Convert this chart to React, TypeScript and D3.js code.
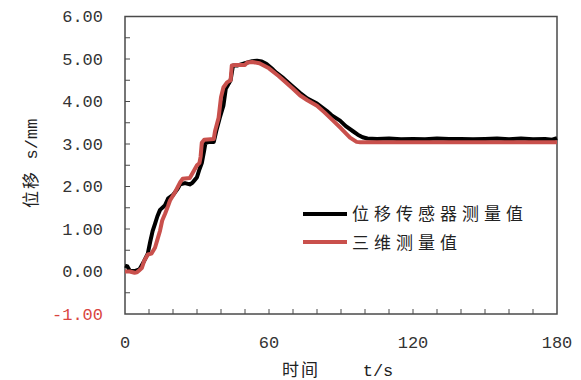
import React from "react";
import * as d3 from "d3";

const yTicks = [-1, 0, 1, 2, 3, 4, 5, 6];
const xTicks = [0, 60, 120, 180];
const legendLabels = ["位移传感器测量值", "三维测量值"];
const yAxisTitle = ["位移", "s/mm"];
const xAxisTitle = ["时间", "t/s"];

const sensorT = [0, 1, 2, 4, 6, 8, 9.5, 10.5, 11.5, 12.5, 13.5, 14.6, 16.7, 18, 20, 22, 23, 25, 27, 28, 29, 30, 31, 32, 33, 33.5, 35, 37, 38, 39.5, 41, 42, 43, 44, 45, 47, 50, 53, 55, 57, 59, 61.7, 63, 66, 70, 73, 76, 80, 84, 86, 89.6, 92, 95, 97, 99, 101, 105, 110, 115, 120, 125, 130, 135, 140, 145, 150, 155, 160, 165, 170, 175, 178, 180];
const sensorV = [0.14, 0.12, 0.02, 0.01, 0.05, 0.25, 0.42, 0.7, 0.95, 1.12, 1.3, 1.45, 1.56, 1.72, 1.8, 1.95, 2.05, 2.08, 2.05, 2.08, 2.15, 2.22, 2.4, 2.55, 2.85, 3.02, 3.05, 3.05, 3.3, 3.62, 3.9, 4.3, 4.4, 4.5, 4.85, 4.85, 4.9, 4.95, 4.96, 4.94, 4.88, 4.75, 4.68, 4.55, 4.35, 4.2, 4.07, 3.95, 3.78, 3.68, 3.55, 3.42, 3.3, 3.22, 3.16, 3.13, 3.12, 3.13, 3.11, 3.12, 3.11, 3.13, 3.12, 3.12, 3.11, 3.12, 3.13, 3.11, 3.13, 3.11, 3.12, 3.1, 3.14];

const opticT = [0, 2, 4, 5, 6, 7, 8, 9.5, 11, 12.5, 13.5, 14.6, 15.5, 16.7, 18, 18.75, 20.8, 23, 24, 27, 28, 29, 30, 31, 31.5, 32, 33, 37, 37.5, 39, 40, 41, 42.5, 44, 44.5, 46, 50, 51, 53, 56, 60, 64, 66, 70, 73, 76, 80, 83, 86.7, 90, 93.75, 96.5, 98, 180];
const opticV = [0, 0, -0.03, -0.02, 0.03, 0.08, 0.25, 0.4, 0.42, 0.56, 0.75, 0.96, 1.2, 1.36, 1.55, 1.67, 1.86, 2.1, 2.18, 2.2, 2.3, 2.4, 2.5, 2.55, 2.7, 3.03, 3.1, 3.12, 3.3, 3.62, 4.1, 4.33, 4.45, 4.5, 4.85, 4.86, 4.86, 4.92, 4.93, 4.9, 4.78, 4.6, 4.5, 4.3, 4.14, 4.03, 3.9, 3.75, 3.55, 3.37, 3.15, 3.05, 3.04, 3.04];

const W = 581;
const H = 380;
const left = 125;
const right = 557;
const top = 16.5;
const bottom = 314;

export default function App() {
  const x = d3.scaleLinear().domain([0, 180]).range([left, right]);
  const y = d3.scaleLinear().domain([-1, 6]).range([bottom, top]);
  const line = d3
    .line<[number, number]>()
    .x((d) => x(d[0]))
    .y((d) => y(d[1]));
  const sensor = sensorT.map((t, i) => [t, sensorV[i]] as [number, number]);
  const optic = opticT.map((t, i) => [t, opticV[i]] as [number, number]);
  const minorX = d3.range(10, 180, 10);
  const minorY = d3.range(-0.5, 6, 0.5);
  const axisColor = "#4a4a4a";
  const red = "#c9504c";
  const numFont = "'Liberation Mono', 'DejaVu Sans Mono', monospace";
  const cjkFont = "'Noto Sans CJK SC', sans-serif";

  return (
    <svg
      width={W}
      height={H}
      style={{ position: "absolute", left: 0, top: 0, background: "#fff" }}
    >
      <rect x={0} y={0} width={W} height={H} fill="#fff" />
      {minorX.map((t) => (
        <line key={"mx" + t} x1={x(t)} x2={x(t)} y1={bottom} y2={bottom - 5} stroke={axisColor} strokeWidth={1} />
      ))}
      {minorY.map((v) => (
        <line key={"my" + v} x1={left} x2={left + 5} y1={y(v)} y2={y(v)} stroke={axisColor} strokeWidth={1} />
      ))}
      <rect x={left} y={top} width={right - left} height={bottom - top} fill="none" stroke={axisColor} strokeWidth={1.5} />
      {yTicks.map((v) => (
        <text
          key={"yt" + v}
          x={103}
          y={y(v)}
          dy="0.35em"
          textAnchor="end"
          fontFamily={numFont}
          fontSize={17}
          fill={v < 0 ? "#d9453f" : "#333"}
        >
          {v.toFixed(2)}
        </text>
      ))}
      {xTicks.map((t) => (
        <text
          key={"xt" + t}
          x={x(t)}
          y={342}
          dy="0.35em"
          textAnchor="middle"
          fontFamily={numFont}
          fontSize={17}
          fill="#333"
        >
          {t}
        </text>
      ))}
      <path d={line(sensor) || ""} fill="none" stroke="#000" strokeWidth={4} strokeLinejoin="round" />
      <path d={line(optic) || ""} fill="none" stroke={red} strokeWidth={4} strokeLinejoin="round" />
      <line x1={303} x2={347} y1={214} y2={214} stroke="#000" strokeWidth={4} />
      <line x1={303} x2={347} y1={242} y2={242} stroke={red} strokeWidth={4} />
      <text x={352} y={214} dy="0.35em" fontFamily={cjkFont} fontSize={17} letterSpacing={5} fill="#222">
        {legendLabels[0]}
      </text>
      <text x={352} y={243} dy="0.35em" fontFamily={cjkFont} fontSize={17} letterSpacing={5} fill="#222">
        {legendLabels[1]}
      </text>
      <g transform="translate(31,0) rotate(-90)">
        <text x={-189} y={0} dy="0.35em" textAnchor="middle" fontFamily={cjkFont} fontSize={17} letterSpacing={2} fill="#222">
          {yAxisTitle[0]}
        </text>
        <text x={-139} y={0} dy="0.35em" textAnchor="middle" fontFamily={numFont} fontSize={17} fill="#222">
          {yAxisTitle[1]}
        </text>
      </g>
      <text x={301} y={370} dy="0.35em" textAnchor="middle" fontFamily={cjkFont} fontSize={17} letterSpacing={2} fill="#222">
        {xAxisTitle[0]}
      </text>
      <text x={378} y={370} dy="0.35em" textAnchor="middle" fontFamily={numFont} fontSize={17} fill="#222">
        {xAxisTitle[1]}
      </text>
    </svg>
  );
}
